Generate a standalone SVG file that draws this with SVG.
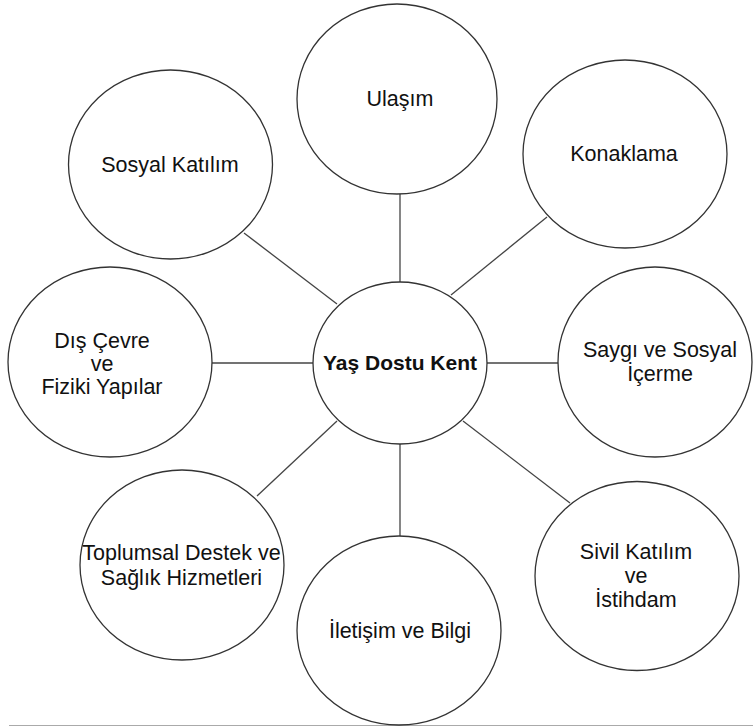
<svg xmlns="http://www.w3.org/2000/svg" width="753" height="728" viewBox="0 0 753 728">
<style>
  .c { fill: #fff; stroke: #333; stroke-width: 1.3; }
  .l { stroke: #444; stroke-width: 1.3; fill: none; }
  .t { font-family: "Liberation Sans", Arial, sans-serif; font-size: 21.5px; fill: #111; text-anchor: middle; }
  .b { font-weight: bold; font-size: 21px; }
</style>
<rect width="753" height="728" fill="#fff"/>
<line x1="9" y1="725.5" x2="753" y2="725.5" stroke="#aaa" stroke-width="1.2"/>
<g id="connectors">
  <line class="l" x1="400" y1="194" x2="400" y2="282"/>
  <line class="l" x1="451" y1="295" x2="547" y2="217"/>
  <line class="l" x1="244" y1="233" x2="337" y2="304"/>
  <line class="l" x1="212" y1="363" x2="313" y2="363"/>
  <line class="l" x1="487" y1="363" x2="558" y2="363"/>
  <line class="l" x1="337" y1="421" x2="257" y2="496"/>
  <line class="l" x1="400" y1="444" x2="400" y2="536"/>
  <line class="l" x1="463" y1="421" x2="570" y2="503"/>
</g>
<g id="center">
  <ellipse class="c" cx="400" cy="363" rx="87" ry="81"/>
  <text class="t b" x="400" y="370">Yaş Dostu Kent</text>
</g>
<g id="ulasim">
  <ellipse class="c" cx="397" cy="99" rx="100" ry="95"/>
  <text class="t" x="400" y="106">Ulaşım</text>
</g>
<g id="sosyal-katilim">
  <ellipse class="c" cx="170.5" cy="164.5" rx="102" ry="94.5"/>
  <text class="t" x="170" y="171.5">Sosyal Katılım</text>
</g>
<g id="konaklama">
  <ellipse class="c" cx="625" cy="154" rx="102" ry="94"/>
  <text class="t" x="624" y="160.5">Konaklama</text>
</g>
<g id="dis-cevre">
  <ellipse class="c" cx="110" cy="362" rx="102" ry="95"/>
  <text class="t" x="102" y="348">Dış Çevre</text>
  <text class="t" x="102" y="371">ve</text>
  <text class="t" x="102" y="393.5">Fiziki Yapılar</text>
</g>
<g id="saygi">
  <ellipse class="c" cx="655" cy="362" rx="97" ry="95"/>
  <text class="t" x="660" y="357">Saygı ve Sosyal</text>
  <text class="t" x="660" y="381">İçerme</text>
</g>
<g id="toplumsal">
  <ellipse class="c" cx="182" cy="565" rx="102" ry="95"/>
  <text class="t" x="181.5" y="560">Toplumsal Destek ve</text>
  <text class="t" x="181.5" y="585">Sağlık Hizmetleri</text>
</g>
<g id="iletisim">
  <ellipse class="c" cx="399" cy="630.5" rx="102" ry="94.5"/>
  <text class="t" x="400" y="638">İletişim ve Bilgi</text>
</g>
<g id="sivil">
  <ellipse class="c" cx="637" cy="576" rx="102" ry="94.5"/>
  <text class="t" x="636" y="559">Sivil Katılım</text>
  <text class="t" x="636" y="583">ve</text>
  <text class="t" x="636" y="606.5">İstihdam</text>
</g>
</svg>
